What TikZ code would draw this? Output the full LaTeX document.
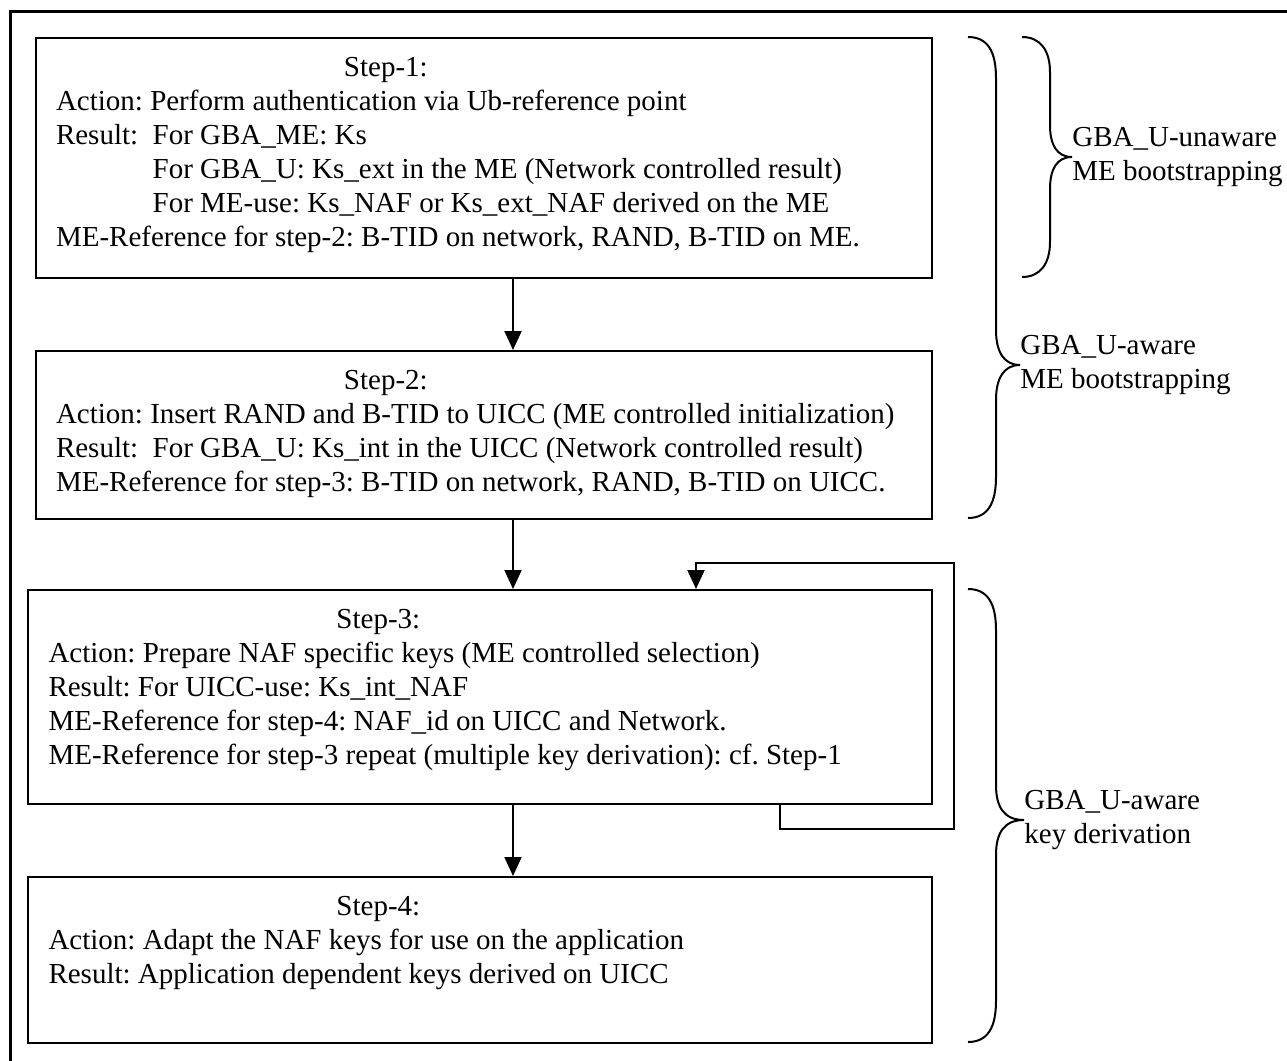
\documentclass[tikz,border=0pt]{standalone}
\usepackage{fontspec}
\setmainfont{Liberation Serif}
\usetikzlibrary{arrows.meta, positioning}
\frenchspacing

% width, height, lines
\newcommand{\stepbody}[3]{\parbox[c][#2][t]{#1}{#3}}

\tikzset{
  stepbox/.style={draw, line width=1pt, anchor=north west, inner xsep=10.25pt, inner ysep=9.4pt},
  flow/.style={line width=1pt, -{Triangle[width=8.5pt, length=9.5pt]}},
  brace/.style={line width=1pt},
  bracelabel/.style={anchor=west, align=left, inner sep=0pt},
}

\begin{document}
\begin{tikzpicture}[x=0.5pt, y=-0.5pt, font=\fontsize{14.5}{17}\selectfont]
\useasboundingbox (0,0) rectangle (1287,1061);
\draw[line width=1.5pt] (1300,11) -| (10,1075);

\node[stepbox] (step1) at (34.5,37) {\stepbody{427.75pt}{101.2pt}{%
\hspace*{144pt}Step-1:\\
Action: Perform authentication via Ub-reference point\\
Result:\ \ For GBA\_ME: Ks\\
\phantom{Result:\ \ }For GBA\_U: Ks\_ext in the ME (Network controlled result)\\
\phantom{Result:\ \ }For ME-use: Ks\_NAF or Ks\_ext\_NAF derived on the ME\\
ME-Reference for step-2: B-TID on network, RAND, B-TID on ME.}};

\node[stepbox] (step2) at (34.5,350) {\stepbody{427.75pt}{65.2pt}{%
\hspace*{144pt}Step-2:\\
Action: Insert RAND and B-TID to UICC (ME controlled initialization)\\
Result:\ \ For GBA\_U: Ks\_int in the UICC (Network controlled result)\\
ME-Reference for step-3: B-TID on network, RAND, B-TID on UICC.}};

\node[stepbox] (step3) at (27,589) {\stepbody{431.5pt}{88.2pt}{%
\hspace*{144pt}Step-3:\\
Action: Prepare NAF specific keys (ME controlled selection)\\
Result: For UICC-use: Ks\_int\_NAF\\
ME-Reference for step-4: NAF\_id on UICC and Network.\\
ME-Reference for step-3 repeat (multiple key derivation): cf. Step-1}};

\node[stepbox] (step4) at (27,876) {\stepbody{431.5pt}{64.2pt}{%
\hspace*{144pt}Step-4:\\
Action: Adapt the NAF keys for use on the application\\
Result: Application dependent keys derived on UICC}};

% main flow and the repeat loop of step 3
\coordinate (spine) at (513,0);
\coordinate (loopout) at (780,0);
\coordinate (loopin) at (696,0);
\draw[flow] (step1.south -| spine) -- (step2.north -| spine);
\draw[flow] (step2.south -| spine) -- (step3.north -| spine);
\draw[flow] (step3.south -| spine) -- (step4.north -| spine);
\draw[flow] (step3.south -| loopout) -- ++(0,24) -| (954,563) -| (step3.north -| loopin);

% braces
\draw[brace] (968,37) .. controls (988,37) and (996,52) .. (996,78)
  -- (996,330) .. controls (996,352) and (1004,365) .. (1020,365)
  .. controls (1004,365) and (996,378) .. (996,400)
  -- (996,477) .. controls (996,503) and (988,518) .. (968,518);
\node[bracelabel] (aware1) at (1020,365) {GBA\_U-aware\\ME bootstrapping};

\draw[brace] (1022,37) .. controls (1040,37) and (1050,50) .. (1050,72)
  -- (1050,125) .. controls (1050,145) and (1057,157) .. (1072,157)
  .. controls (1057,157) and (1050,169) .. (1050,189)
  -- (1050,242) .. controls (1050,264) and (1040,277) .. (1022,277);
\node[bracelabel] (unaware) at (1072,157) {GBA\_U-unaware\\ME bootstrapping};

\draw[brace] (968,589) .. controls (988,589) and (996,604) .. (996,630)
  -- (996,785) .. controls (996,807) and (1004,820) .. (1024,820)
  .. controls (1004,820) and (996,833) .. (996,855)
  -- (996,1001) .. controls (996,1027) and (988,1042) .. (968,1042);
\node[bracelabel] (aware2) at (1024,820) {GBA\_U-aware\\key derivation};
\end{tikzpicture}
\end{document}
